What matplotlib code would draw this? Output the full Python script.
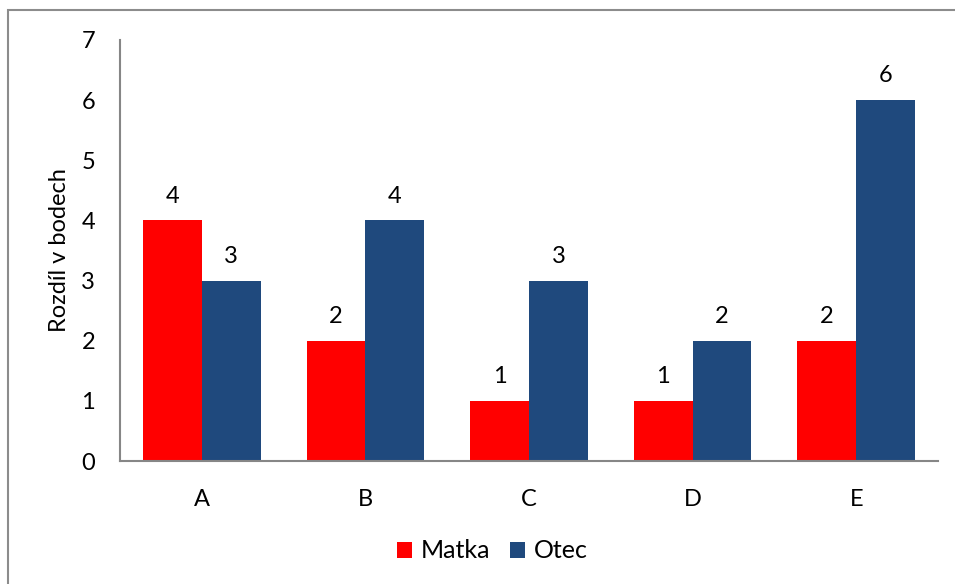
import numpy as np
import matplotlib
matplotlib.use('Agg')
import matplotlib.pyplot as plt
from matplotlib.patches import Rectangle

kategorie = ['A', 'B', 'C', 'D', 'E']
matka = [4, 2, 1, 1, 2]
otec = [3, 4, 3, 2, 6]

plt.rcParams['font.family'] = ['Lato', 'DejaVu Sans']
fs = 17

fig = plt.figure(figsize=(9.55, 5.84), dpi=100)
ax = fig.add_axes([120/955, 1-461/584, (938-120)/955, (461-40)/584])

# ramecek kolem grafu
fig.patches.append(Rectangle((8/955, -0.05), 1.2, 1.05 - 10/584, transform=fig.transFigure,
                             fill=False, edgecolor='#8c8c8c', linewidth=1.5))

x = np.arange(len(kategorie))
w = 0.36
b1 = ax.bar(x - w/2, matka, w, color='#FF0000', label='Matka')
b2 = ax.bar(x + w/2, otec, w, color='#1F497D', label='Otec')

for bars in (b1, b2):
    for r in bars:
        ax.annotate(str(int(r.get_height())), (r.get_x() + r.get_width()/2, r.get_height()),
                    xytext=(0, 10), textcoords='offset points', ha='center', va='bottom', fontsize=fs)

ax.set_xlim(-0.5, len(kategorie) - 0.5)
ax.set_ylim(0, 7)
ax.set_yticks(range(0, 8))
ax.set_xticks(x)
ax.set_xticklabels(kategorie)
ax.tick_params(axis='both', length=0, labelsize=fs)
ax.tick_params(axis='y', pad=18)
ax.tick_params(axis='x', pad=20)
for s in ['top', 'right']:
    ax.spines[s].set_visible(False)
for s in ['left', 'bottom']:
    ax.spines[s].set_color('#868686')
    ax.spines[s].set_linewidth(1.5)
ax.set_ylabel('Rozdíl v bodech', fontsize=fs, labelpad=8)

fig.legend(loc='center', bbox_to_anchor=(492/955, 1-551/584), ncol=2, frameon=False, fontsize=18,
           handlelength=0.6, handleheight=0.6, columnspacing=0.8, handletextpad=0.35)

fig.savefig('out.png', dpi=100)
